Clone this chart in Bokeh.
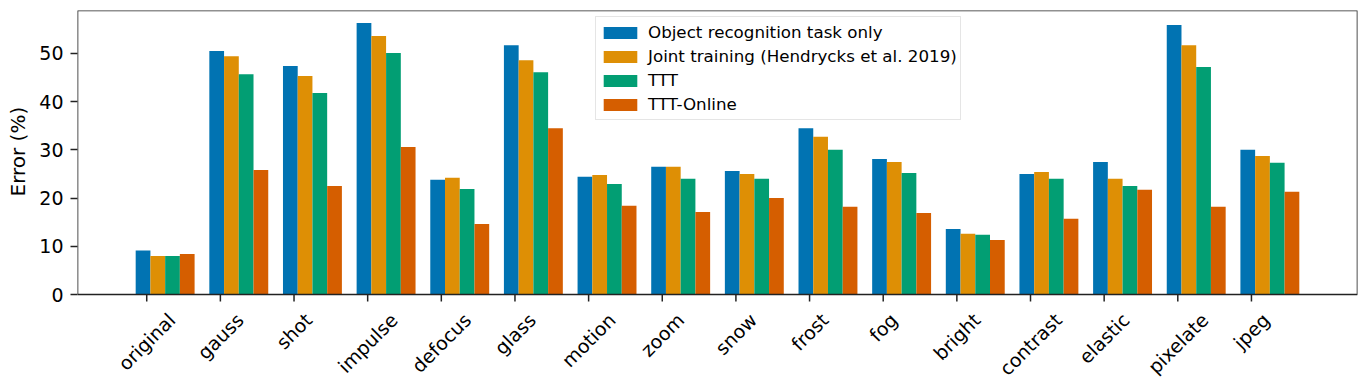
import math
from bokeh.plotting import figure
from bokeh.models import (ColumnDataSource, FixedTicker, Legend, LegendItem,
                          BoxAnnotation, Range1d, Title)
from bokeh.core.properties import value
from bokeh.embed import file_html
from bokeh.resources import INLINE

# ---------------- data ----------------
categories = ["original", "gauss", "shot", "impulse", "defocus", "glass", "motion",
              "zoom", "snow", "frost", "fog", "bright", "contrast", "elastic",
              "pixelate", "jpeg"]
object_only = [9.1, 50.5, 47.4, 56.3, 23.8, 51.7, 24.4, 26.5, 25.6, 34.5, 28.1,
               13.6, 25.0, 27.5, 55.9, 30.0]
joint_training = [8.0, 49.4, 45.3, 53.6, 24.2, 48.6, 24.8, 26.5, 25.0, 32.7, 27.5,
                  12.6, 25.4, 24.0, 51.7, 28.7]
ttt = [8.0, 45.7, 41.8, 50.1, 21.9, 46.1, 22.9, 24.0, 24.0, 30.0, 25.2,
       12.4, 24.0, 22.5, 47.2, 27.3]
ttt_online = [8.4, 25.8, 22.5, 30.6, 14.6, 34.5, 18.4, 17.1, 20.0, 18.2, 16.9,
              11.3, 15.7, 21.7, 18.2, 21.3]
series_names = ["Object recognition task only",
                "Joint training (Hendrycks et al. 2019)",
                "TTT", "TTT-Online"]
y_ticks = [0, 10, 20, 30, 40, 50]
y_label = "Error (%)"

# ---------------- style / layout ----------------
colors = ["#0173b2", "#de8f05", "#029e73", "#d55e00"]
offsets = [-0.05, 0.15, 0.35, 0.55]
bar_width = 0.2
FONT = "DejaVu Sans"
TICK_FS = 19
SPINE = "#222222"
W, H = 1358, 386
TOP, LEFT, RIGHT = 10, 77, 1
AXIS_PX = 284            # height of the plotting box (value axis part)
Y_TOP = 58.9
FRAME_H = H - TOP
PPU = AXIS_PX / Y_TOP    # pixels per unit
Y_BOTTOM = -(FRAME_H - AXIS_PX) / PPU
TICK_LEN = 7

# approximate DejaVu Sans advance widths (em) for label centring
ADV = {'a': .6128, 'b': .6348, 'c': .5498, 'd': .6348, 'e': .6152, 'f': .3521,
       'g': .6348, 'h': .6338, 'i': .2778, 'j': .2778, 'k': .5791, 'l': .2778,
       'm': .9741, 'n': .6338, 'o': .6118, 'p': .6348, 'r': .4111, 's': .5210,
       't': .3921, 'u': .6338, 'w': .8179, 'x': .5918, 'z': .5249}

n = len(categories)
idx = list(range(n))

p = figure(width=W, height=H, output_backend="svg", toolbar_location=None,
           x_range=Range1d(-0.94, 16.44), y_range=Range1d(Y_BOTTOM, Y_TOP),
           min_border_left=LEFT, min_border_right=RIGHT, min_border_top=TOP,
           min_border_bottom=0)
p.background_fill_color = "white"
p.border_fill_color = "white"
p.outline_line_color = None
p.xgrid.visible = False
p.ygrid.visible = False
p.xaxis.visible = False

series = [object_only, joint_training, ttt, ttt_online]
renderers = []
for vals, off, col in zip(series, offsets, colors):
    src = ColumnDataSource(dict(x=[i + off for i in idx], top=vals))
    r = p.vbar(x="x", top="top", bottom=0, width=bar_width, source=src,
               fill_color=col, line_color=None)
    renderers.append(r)

# box (spines) around the value region y >= 0
p.add_layout(BoxAnnotation(bottom=0, fill_color=None, fill_alpha=0,
                           line_color=SPINE, line_alpha=1.0, line_width=1.6))

# category ticks below the box
p.segment(x0=idx, y0=[0] * n, x1=idx, y1=[-TICK_LEN / PPU] * n,
          line_color=SPINE, line_width=1.5)

# rotated category labels, centred on the tick like matplotlib (ha="center")
def text_width(s):
    return sum(ADV.get(ch, 0.6) for ch in s) * TICK_FS

dx = [text_width(c) * math.sqrt(2) / 4 for c in categories]
lab_src = ColumnDataSource(dict(x=idx, y=[0] * n, text=categories, dx=dx))
p.text(x="x", y="y", text="text", source=lab_src, x_offset="dx", y_offset=22,
       angle=math.pi / 4, text_align="right", text_baseline="middle",
       text_font=value(FONT), text_font_size=f"{TICK_FS}px", text_color="black")

# value axis
ax = p.yaxis[0]
ax.ticker = FixedTicker(ticks=y_ticks)
ax.axis_line_color = None
ax.major_tick_line_color = SPINE
ax.major_tick_line_width = 1.5
ax.major_tick_out = TICK_LEN
ax.major_tick_in = 0
ax.minor_tick_line_color = None
ax.major_label_text_font = FONT
ax.major_label_text_font_size = f"{TICK_FS}px"
ax.major_label_text_color = "black"
ax.major_label_standoff = 7

ylab = Title(text=y_label, align="left", vertical_align="top", offset=190,
             standoff=10, text_font=FONT, text_font_size="20px",
             text_font_style="normal", text_color="black")
p.add_layout(ylab, "left")

legend = Legend(items=[LegendItem(label=nm, renderers=[r])
                       for nm, r in zip(series_names, renderers)],
                location=(518, FRAME_H - 120 + TOP))
legend.label_text_font = FONT
legend.label_text_font_size = "16.7px"
legend.label_text_color = "black"
legend.glyph_width = 42
legend.glyph_height = 15
legend.label_height = 24
legend.label_standoff = 7
legend.spacing = 0
legend.padding = 3
legend.margin = 0
legend.border_line_color = "#cccccc"
legend.border_line_width = 1
legend.background_fill_color = "white"
legend.background_fill_alpha = 0.8
p.add_layout(legend)

open("out.html", "w").write(file_html(p, INLINE))
